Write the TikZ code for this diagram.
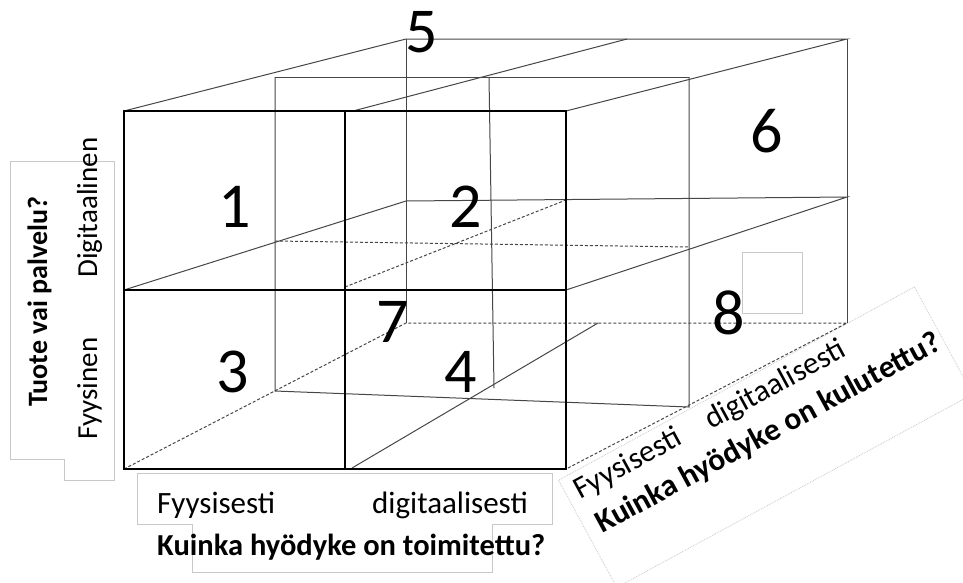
\documentclass[tikz,border=0pt]{standalone}
\usepackage{fontspec}
\setmainfont{Carlito}
\usepackage{tikz}
\usetikzlibrary{positioning}
\definecolor{wiregray}{RGB}{70,70,70}
\definecolor{framegray}{RGB}{200,200,200}
\tikzset{
  frontedge/.style={draw=black, line width=2pt},
  wire/.style={draw=wiregray, line width=1pt},
  hiddenwire/.style={wire, dash pattern=on 3pt off 2pt},
  cellnum/.style={inner sep=0pt, font=\fontsize{64}{64}\selectfont},
  axislabel/.style={inner sep=0pt, font=\fontsize{31}{31}\selectfont},
  axistitle/.style={inner sep=0pt, font=\fontsize{30.5}{30.5}\selectfont\bfseries},
  sidelabel/.style={inner sep=0pt, font=\fontsize{29}{29}\selectfont},
  sidetitle/.style={inner sep=0pt, font=\fontsize{28}{28}\selectfont\bfseries},
  labelframe/.style={draw=framegray, line width=0.8pt},
}

\begin{document}
\begin{tikzpicture}[x=1pt, y=-1pt]
            \clip (0,0) rectangle (963,582);
            % frames round the axis labels
            \draw[labelframe] (10,161) -- (114,161) -- (114,480) -- (64,480) -- (64,459) -- (10,459) -- cycle;
            \draw[labelframe] (137,473) -- (552,473) -- (552,524) -- (492,524) -- (492,572) -- (192,572) -- (192,524) -- (137,524) -- cycle;
            \node[labelframe, densely dotted, rotate=28.5, anchor=north west, minimum width=405pt, minimum height=122pt] (consframe) at (558,480) {};
            \node[labelframe, minimum width=60pt, minimum height=61pt] (emptybox) at (772,282.5) {};

            % corners of the cube
            \coordinate (ftl) at (124,111); \coordinate (ftm) at (345,111); \coordinate (ftr) at (566,111);
            \coordinate (fml) at (124,290); \coordinate (fmr) at (566,290);
            \coordinate (fbl) at (124,469); \coordinate (fbm) at (345,469); \coordinate (fbr) at (566,469);
            \coordinate (btl) at (406,39);  \coordinate (btr) at (847,39);
            \coordinate (bml) at (406,201); \coordinate (bmr) at (847,197);
            \coordinate (bbl) at (406,323); \coordinate (bbr) at (847,323);
            \coordinate (mtl) at (275,77);  \coordinate (mtm) at (489,77);  \coordinate (mtr) at (689,77);
            \coordinate (mml) at (275,241); \coordinate (mmr) at (689,247);
            \coordinate (mbl) at (275,391); \coordinate (mbm) at (494,388); \coordinate (mbr) at (689,407);
            \coordinate (ctf) at (353,111); \coordinate (ctb) at (627,39);
            \coordinate (cmf) at (345,287); \coordinate (cmb) at (566,200);
            \coordinate (cbf) at (352,468); \coordinate (cbb) at (598,323);

            % back and middle planes
            \draw[wire] (ftl) -- (btl) -- (btr) -- (ftr);
            \draw[wire] (btl) -- (bbl);
            \draw[wire] (btr) -- (bbr);
            \draw[wire] (fml) -- (bml) -- (bmr) -- (fmr);
            \draw[wire] (ctf) -- (ctb);
            \draw[wire] (cbf) -- (cbb);
            \draw[wire] (mtl) -- (mtr);
            \draw[wire] (mtl) -- (mbl) -- (mbr) -- (mtr);
            \draw[wire] (mtm) -- (mbm);
            \draw[hiddenwire] (fbl) -- (bbl) -- (bbr) -- (fbr);
            \draw[hiddenwire] (mml) -- (mmr);
            \draw[hiddenwire] (cmf) -- (cmb);

            % front face
            \draw[frontedge] (ftl) rectangle (fbr);
            \draw[frontedge] (ftm) -- (fbm);
            \draw[frontedge] (fml) -- (fmr);

            % cell numbers
            \node[cellnum] (cell1) at (235,207) {1};
            \node[cellnum] (cell2) at (466,207) {2};
            \node[cellnum] (cell3) at (233,372) {3};
            \node[cellnum] (cell4) at (461,372) {4};
            \node[cellnum] (cell5) at (422,32) {5};
            \node[cellnum] (cell6) at (767,131) {6};
            \node[cellnum] (cell7) at (393,322) {7};
            \node[cellnum] (cell8) at (729,313) {8};

            % axis labels
            \node[sidetitle, rotate=90, anchor=base west] (productq) at (47,407) {Tuote vai palvelu?};
            \node[sidelabel, rotate=90, anchor=base west] (prodigital) at (97,278) {Digitaalinen};
            \node[sidelabel, rotate=90, anchor=base west] (prophysical) at (97,440) {Fyysinen};
            \node[axislabel, anchor=base west] (delphys) at (157,513) {Fyysisesti};
            \node[axislabel, anchor=base west] (deldigital) at (372,513) {digitaalisesti};
            \node[axistitle, anchor=base west] (delq) at (157,555) {Kuinka hyödyke on toimitettu?};
            \node[axislabel, rotate=28.5, anchor=base west] (consphys) at (580,500) {Fyysisesti};
            \node[axislabel, rotate=28.5, anchor=base west] (consdigital) at (711,430) {digitaalisesti};
            \node[axistitle, font=\fontsize{31.5}{31.5}\selectfont\bfseries, rotate=28.5, anchor=base west] (consq) at (602,534) {Kuinka hyödyke on kulutettu?};
\end{tikzpicture}
\end{document}
